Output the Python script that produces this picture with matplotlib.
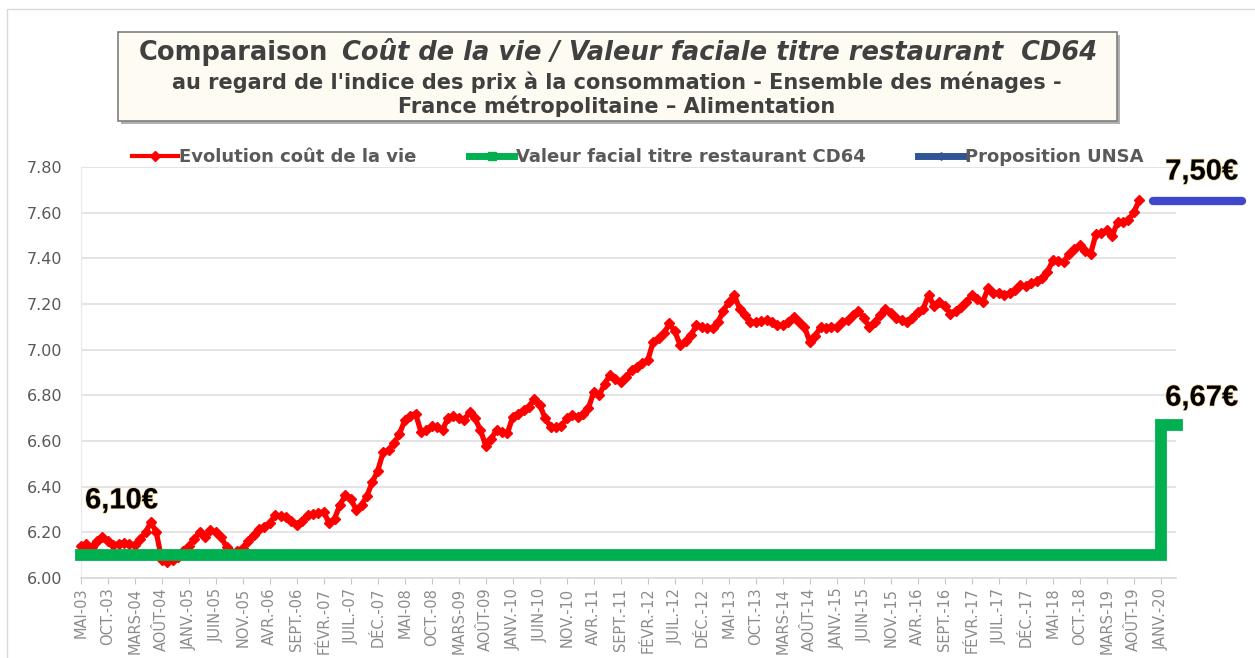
"""Comparaison coût de la vie / valeur faciale titre restaurant CD64."""
import matplotlib
matplotlib.use('Agg')
import matplotlib.pyplot as plt
from matplotlib.lines import Line2D
from matplotlib.patches import Rectangle
import matplotlib.patheffects as pe

W, H = 1255, 658

# tick labels, one every 5 months from MAI-03 to JANV.-20
month_labels = [
    'MAI-03', 'OCT.-03', 'MARS-04', 'AOÛT-04', 'JANV.-05', 'JUIN-05', 'NOV.-05',
    'AVR.-06', 'SEPT.-06', 'FÉVR.-07', 'JUIL.-07', 'DÉC.-07', 'MAI-08', 'OCT.-08',
    'MARS-09', 'AOÛT-09', 'JANV.-10', 'JUIN-10', 'NOV.-10', 'AVR.-11', 'SEPT.-11',
    'FÉVR.-12', 'JUIL.-12', 'DÉC.-12', 'MAI-13', 'OCT.-13', 'MARS-14', 'AOÛT-14',
    'JANV.-15', 'JUIN-15', 'NOV.-15', 'AVR.-16', 'SEPT.-16', 'FÉVR.-17', 'JUIL.-17',
    'DÉC.-17', 'MAI-18', 'OCT.-18', 'MARS-19', 'AOÛT-19', 'JANV.-20',
]
label_step = 5

# monthly cost of living, from MAI-03 (index 0) to SEPT.-19
cout_vie = [
    6.14, 6.15, 6.135, 6.16, 6.18, 6.16, 6.145, 6.15, 6.155, 6.15, 6.145, 6.17,
    6.20, 6.245, 6.20, 6.08, 6.07, 6.08, 6.09, 6.12, 6.14, 6.17, 6.20, 6.18,
    6.21, 6.20, 6.18, 6.135, 6.11, 6.12, 6.13, 6.16, 6.19, 6.215, 6.225, 6.24,
    6.275, 6.27, 6.268, 6.25, 6.232, 6.25, 6.275, 6.28, 6.285, 6.29, 6.24, 6.26,
    6.32, 6.363, 6.345, 6.30, 6.32, 6.36, 6.42, 6.47, 6.55, 6.56, 6.59, 6.63,
    6.69, 6.71, 6.72, 6.64, 6.65, 6.665, 6.66, 6.65, 6.70, 6.71, 6.70, 6.69,
    6.728, 6.70, 6.648, 6.58, 6.61, 6.648, 6.64, 6.633, 6.706, 6.72, 6.735, 6.75,
    6.786, 6.757, 6.70, 6.662, 6.66, 6.665, 6.70, 6.713, 6.706, 6.72, 6.743, 6.815,
    6.80, 6.85, 6.89, 6.87, 6.86, 6.88, 6.91, 6.925, 6.94, 6.954, 7.034, 7.05,
    7.071, 7.115, 7.08, 7.02, 7.04, 7.063, 7.107, 7.10, 7.095, 7.093, 7.12, 7.17,
    7.21, 7.239, 7.18, 7.15, 7.122, 7.12, 7.125, 7.129, 7.12, 7.11, 7.107, 7.12,
    7.144, 7.12, 7.10, 7.034, 7.06, 7.10, 7.095, 7.10, 7.10, 7.12, 7.13, 7.15,
    7.17, 7.14, 7.10, 7.12, 7.15, 7.18, 7.16, 7.14, 7.13, 7.122, 7.14, 7.165,
    7.18, 7.239, 7.19, 7.209, 7.19, 7.158, 7.17, 7.187, 7.21, 7.239, 7.22, 7.209,
    7.268, 7.25, 7.25, 7.24, 7.246, 7.26, 7.282, 7.28, 7.29, 7.30, 7.312, 7.341,
    7.392, 7.39, 7.384, 7.42, 7.44, 7.457, 7.43, 7.421, 7.508, 7.51, 7.523, 7.50,
    7.559, 7.56, 7.567, 7.603, 7.654,
]

# face value of the meal voucher (step in JANV.-20)
titre_idx = [0, 200, 200, 203]
titre_val = [6.10, 6.10, 6.67, 6.67]

# UNSA proposal segment
unsa_idx = [198.5, 215]
unsa_val = [7.65, 7.65]

RED = '#ff0000'
GREEN = '#00b050'
BLUE = '#3f48cc'
GREY_TXT = '#595959'

fig = plt.figure(figsize=(W / 100, H / 100), dpi=100)
ax = fig.add_axes([80.7 / W, 1 - 578 / H, (1176 - 80.7) / W, (578 - 167) / H])

ax.plot(range(len(cout_vie)), cout_vie, color=RED, lw=3.8, marker='D', ms=4.6,
        mec=RED, mfc=RED, clip_on=False, zorder=3)
ax.plot(titre_idx, titre_val, color=GREEN, lw=8.5, solid_capstyle='projecting',
        solid_joinstyle='miter', clip_on=False, zorder=4)
ax.plot(unsa_idx, unsa_val, color=BLUE, lw=6, solid_capstyle='round',
        clip_on=False, zorder=4)

ax.set_xlim(0, 202.8)
ax.set_ylim(6.0, 7.8)
ax.set_yticks([6.0 + 0.2 * k for k in range(10)])
ax.set_yticklabels([f'{6.0 + 0.2 * k:.2f}' for k in range(10)])
ax.set_xticks(range(0, label_step * len(month_labels), label_step))
ax.set_xticklabels(month_labels, rotation=90)

ax.yaxis.grid(True, color='#e4e4e4', lw=1.4)
ax.set_axisbelow(True)
for s in ('top', 'right'):
    ax.spines[s].set_visible(False)
ax.spines['left'].set_color('#e8e8e8')
ax.spines['bottom'].set_color('#d9d9d9')
ax.spines['bottom'].set_linewidth(1.2)
ax.tick_params(axis='x', length=4, color='#c8c8c8', labelcolor='#8c8c8c',
               labelsize=10.5, pad=3)
ax.tick_params(axis='y', length=0, labelcolor=GREY_TXT, labelsize=11.5, pad=13)

# value labels
glow = [pe.withStroke(linewidth=1.0, foreground='#e8c98a')]
for x, y, txt in [(0.8, 6.34, '6,10€'), (200.8, 7.78, '7,50€'), (200.8, 6.79, '6,67€')]:
    ax.text(x, y, txt, fontsize=21, fontweight='bold', family='Liberation Sans',
            ha='left', va='center', color='black', path_effects=glow, clip_on=False)

# legend
handles = [
    Line2D([], [], color=RED, lw=3, marker='D', ms=5),
    Line2D([], [], color=GREEN, lw=5, marker='s', ms=6),
    Line2D([], [], color='#2f5597', lw=5, marker='d', ms=4),
]
labels = ['Evolution coût de la vie', 'Valeur facial titre restaurant CD64',
          'Proposition UNSA']
fig.legend(handles, labels, loc='center', bbox_to_anchor=(638 / W, 1 - 157 / H),
           ncol=3, frameon=False, handlelength=2.5, handletextpad=0.1,
           columnspacing=2.9, prop={'size': 13, 'weight': 'bold'},
           labelcolor=GREY_TXT)

# title box with shadow
fig.patches.append(Rectangle((121 / W, 1 - 124 / H), 999 / W, 89 / H,
                             transform=fig.transFigure, facecolor='#b0b0b0',
                             edgecolor='none', zorder=0))
fig.patches.append(Rectangle((118 / W, 1 - 121 / H), 999 / W, 89 / H,
                             transform=fig.transFigure, facecolor='#fdfbf2',
                             edgecolor='#7f7f7f', lw=1.2, zorder=1))
# outer chart border
fig.patches.append(Rectangle((7 / W, -0.1), 1.2, 1 - 9 / H + 0.1,
                             transform=fig.transFigure, facecolor='none',
                             edgecolor='#d9d9d9', lw=1.0, zorder=0))

TITLE_C = '#404040'
fig.text(328 / W, 1 - 53 / H, 'Comparaison', ha='right', va='center',
         fontsize=18.5, fontweight='bold', color=TITLE_C)
fig.text(342 / W, 1 - 53 / H, 'Coût de la vie / Valeur faciale titre restaurant  CD64',
         ha='left', va='center', fontsize=18.5, fontweight='bold', style='italic',
         color=TITLE_C)
fig.text(617 / W, 1 - 82 / H,
         "au regard de l'indice des prix à la consommation - Ensemble des ménages -",
         ha='center', va='center', fontsize=15, fontweight='bold', color=TITLE_C)
fig.text(617 / W, 1 - 106 / H, 'France métropolitaine – Alimentation',
         ha='center', va='center', fontsize=15, fontweight='bold', color=TITLE_C)

fig.savefig('out.png', dpi=100)
